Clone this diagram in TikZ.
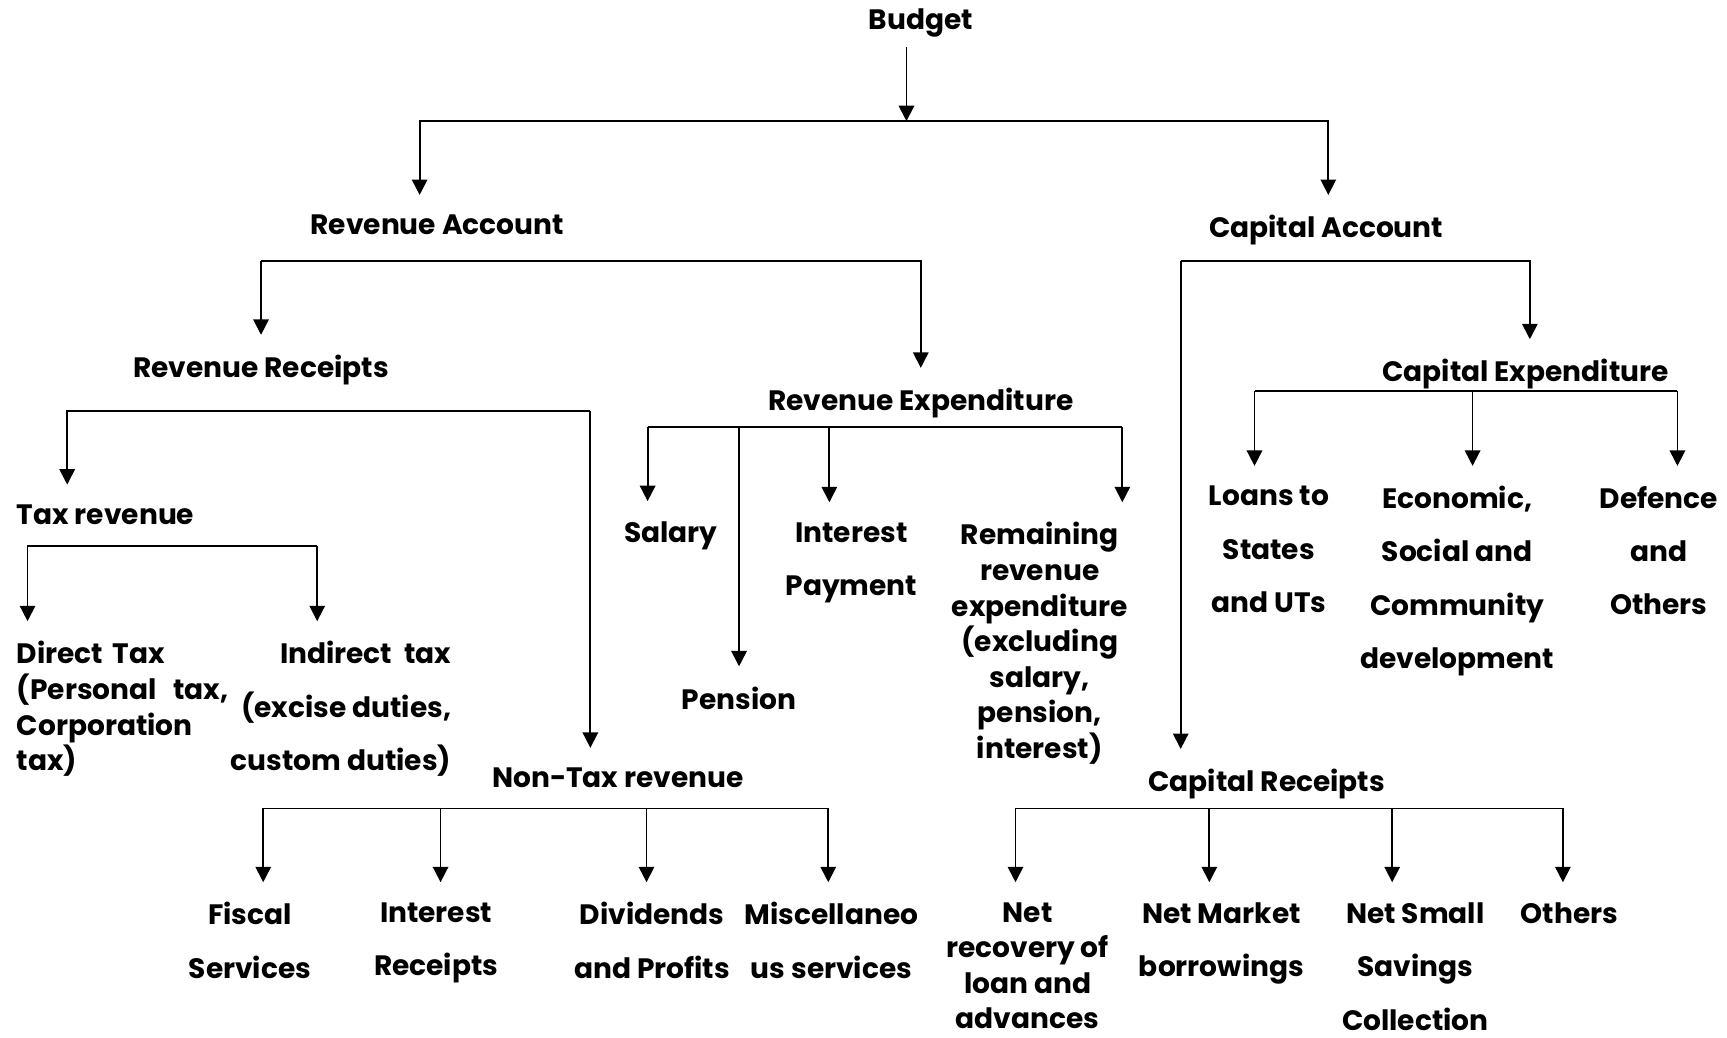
\documentclass[tikz,border=0pt]{standalone}
\usepackage{fontspec}
\setmainfont{Poppins}
\usepackage{tikz}
\usetikzlibrary{arrows.meta, positioning}

\begin{document}
\begin{tikzpicture}[
  x=0.02cm, y=-0.02cm,
  txt/.style={font=\fontsize{14.5}{18.4}\selectfont\bfseries, align=center, inner xsep=0pt, inner ysep=0.36cm, anchor=north},
  wide/.style={txt, font=\fontsize{14.5}{27.6}\selectfont\bfseries},
  arr/.style={-{Triangle[length=2.8mm, width=2.8mm]}, line width=0.9pt},
  bar/.style={line width=0.9pt}
]
\useasboundingbox (0,0) rectangle (1568,942);

% budget and the two accounts
\node[txt, inner ysep=0.16cm] (budget) at (836,0) {Budget};
\node[txt] (revacc) at (397,177) {Revenue Account};
\node[txt] (capacc) at (1204,177) {Capital Account};
\coordinate (top) at (823,110);
\draw[arr] (budget.south -| top) -- (top);
\draw[arr] (top) -| (381,0 |- revacc.north);
\draw[arr] (top) -| (1206,0 |- capacc.north);

% revenue account
\node[txt] (revrec) at (237,304) {Revenue Receipts};
\node[txt] (revexp) at (836,334) {Revenue Expenditure};
\coordinate (ra-l) at (237,237);
\draw[arr] (ra-l) -- (revrec.north);
\draw[arr] (ra-l) -| (revexp.north);

% capital account
\node[txt] (capexp) at (1385,308) {Capital Expenditure};
\node[txt] (caprec) at (1150,680) {Capital Receipts};
\coordinate (ca-l) at (1072,237);
\draw[arr] (ca-l) -| (1389,0 |- capexp.north);
\draw[arr] (ca-l) -- (ca-l |- caprec.north);

% revenue receipts
\node[txt, anchor=north west] (taxrev) at (15,440) {Tax revenue};
\node[txt] (nontax) at (561,679) {Non-Tax revenue};
\coordinate (rr-l) at (61,373);
\coordinate (rr-r) at (536,373);
\draw[arr] (rr-r) -- (rr-l) -- (rr-l |- taxrev.north);
\draw[arr] (rr-r) -- (rr-r |- nontax.north);

% tax revenue
\node[txt, anchor=north west, align=left, text width=3.84cm] (dtax) at (15,564)
  {Direct Tax\\(Personal\hfill tax,\\Corporation\\tax)};
\node[wide, anchor=north east, align=right] (itax) at (410,564)
  {Indirect\ \ tax\\(excise\ duties,\\custom duties)};
\coordinate (tr-l) at (25,496);
\coordinate (tr-r) at (288,496);
\draw[arr] (tr-r) -- (tr-l) -- (tr-l |- dtax.north);
\draw[arr] (tr-r) -- (tr-r |- itax.north);

% revenue expenditure
\node[txt] (salary) at (609,455) {Salary};
\node[txt] (pension) at (671,605) {Pension};
\node[wide] (intpay) at (773,456) {Interest\\Payment};
\node[txt] (remexp) at (944,456)
  {Remaining\\revenue\\expenditure\\(excluding\\salary,\\pension,\\interest)};
\coordinate (rx) at (588,388);
\draw[bar] (rx) -- (1019,0 |- rx);
\foreach \x/\n in {588/salary, 671/pension, 753/intpay, 1019/remexp}
  \draw[arr] (\x,0 |- rx) -- (\x,0 |- \n.north);

% capital expenditure
\node[wide] (loans) at (1152,423) {Loans to\\States\\and UTs};
\node[wide] (econ) at (1323,423) {Economic,\\Social and\\Community\\development};
\node[wide] (defence) at (1506,423) {Defence\\and\\Others};
\coordinate (cx) at (1139,355);
\draw[bar] (cx) -- (1523,0 |- cx);
\foreach \x/\n in {1139/loans, 1337/econ, 1523/defence}
  \draw[arr] (\x,0 |- cx) -- (\x,0 |- \n.north);

% non-tax revenue
\node[wide] (fiscal) at (227,801) {Fiscal\\Services};
\node[wide] (intrec) at (396,801) {Interest\\Receipts};
\node[wide] (divid) at (592,801) {Dividends\\and Profits};
\node[wide] (misc) at (755,801) {Miscellaneo\\us services};
\coordinate (nt) at (239,734);
\draw[bar] (nt) -- (752,0 |- nt);
\foreach \x/\n in {239/fiscal, 400/intrec, 587/divid, 752/misc}
  \draw[arr] (\x,0 |- nt) -- (\x,0 |- \n.north);

% capital receipts
\node[txt] (netrec) at (933,801) {Net\\recovery of\\loan and\\advances};
\node[wide] (netmkt) at (1109,801) {Net Market\\borrowings};
\node[wide] (netsmall) at (1285,801) {Net Small\\Savings\\Collection};
\node[wide] (others) at (1425,801) {Others};
\coordinate (cr) at (922,734);
\draw[bar] (cr) -- (1419,0 |- cr);
\foreach \x/\n in {922/netrec, 1098/netmkt, 1264/netsmall, 1419/others}
  \draw[arr] (\x,0 |- cr) -- (\x,0 |- \n.north);
\end{tikzpicture}
\end{document}
